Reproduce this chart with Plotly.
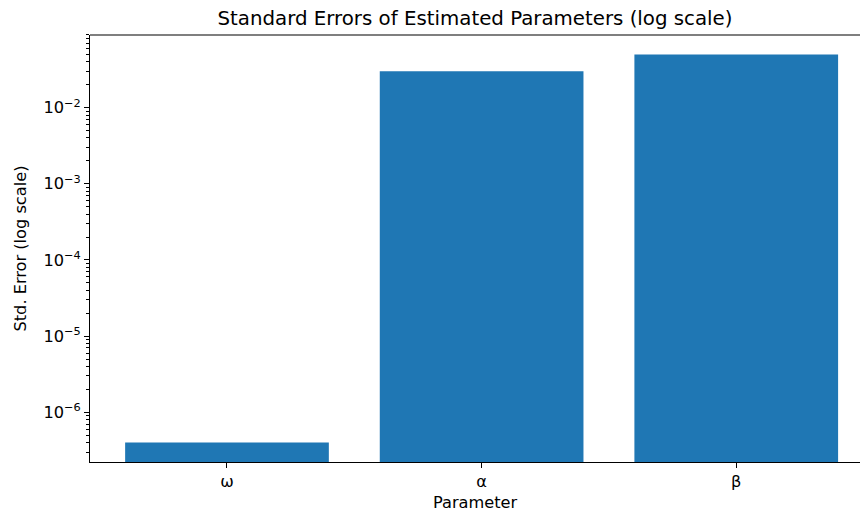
import plotly.graph_objects as go

params = ["ω", "α", "β"]
std_errors = [4.0e-7, 0.030, 0.050]

title_text = "Standard Errors of Estimated Parameters (log scale)"
x_label = "Parameter"
y_label = "Std. Error (log scale)"

major_vals = [1e-6, 1e-5, 1e-4, 1e-3, 1e-2]
major_text = ["10<sup>−6</sup>", "10<sup>−5</sup>", "10<sup>−4</sup>", "10<sup>−3</sup>", "10<sup>−2</sup>"]
minor_vals = [m * 10.0 ** e for e in range(-7, -1) for m in range(2, 10)]
minor_vals = [v for v in minor_vals if 2.2e-7 <= v <= 0.09]

font_family = "DejaVu Sans"
label_size = 16.2
title_size = 19.8

fig = go.Figure()
fig.add_trace(go.Bar(
    x=[0, 1, 2], y=std_errors, width=0.8,
    marker=dict(color="#1f77b4", line=dict(width=0)),
))

fig.update_layout(
    width=860, height=512,
    margin=dict(l=90, r=0, t=35, b=50),
    paper_bgcolor="white", plot_bgcolor="white",
    showlegend=False,
    font=dict(family=font_family, size=label_size, color="black"),
    title=dict(text=title_text, x=0.5, xref="paper", xanchor="center",
               y=1 - 18 / 512, yref="container", yanchor="middle",
               font=dict(size=title_size, color="black")),
)

fig.update_xaxes(
    range=[-0.538, 2.486],
    tickmode="array", tickvals=[0, 1, 2], ticktext=params,
    ticks="outside", ticklen=5, tickwidth=1.1, tickcolor="black",
    showline=True, linecolor="black", linewidth=1.1,
    showgrid=False, zeroline=False,
    tickfont=dict(size=label_size, color="black"),
)
fig.update_yaxes(
    type="log", range=[-6.653, -1.046],
    tickmode="array", tickvals=major_vals, ticktext=major_text,
    ticks="outside", ticklen=5, tickwidth=1.1, tickcolor="black",
    minor=dict(tickmode="array", tickvals=minor_vals, ticks="outside",
               ticklen=3, tickwidth=0.8, tickcolor="black", showgrid=False),
    showline=True, linecolor="black", linewidth=1.1,
    showgrid=False, zeroline=False,
    tickfont=dict(size=label_size, color="black"),
)

# top spine
fig.add_shape(type="line", xref="paper", yref="paper", x0=0, x1=1, y0=1, y1=1,
              line=dict(color="black", width=1.1))

fig.add_annotation(text=x_label, xref="paper", yref="paper", x=0.5,
                   y=-(502 - 462) / 427, xanchor="center", yanchor="middle",
                   showarrow=False, borderpad=0,
                   font=dict(size=label_size, color="black"))
fig.add_annotation(text=y_label, xref="paper", yref="paper",
                   x=-(90 - 20) / 770, y=0.5, xanchor="center", yanchor="middle",
                   textangle=-90, showarrow=False,
                   font=dict(size=label_size, color="black"))

fig.write_html("out.html")
